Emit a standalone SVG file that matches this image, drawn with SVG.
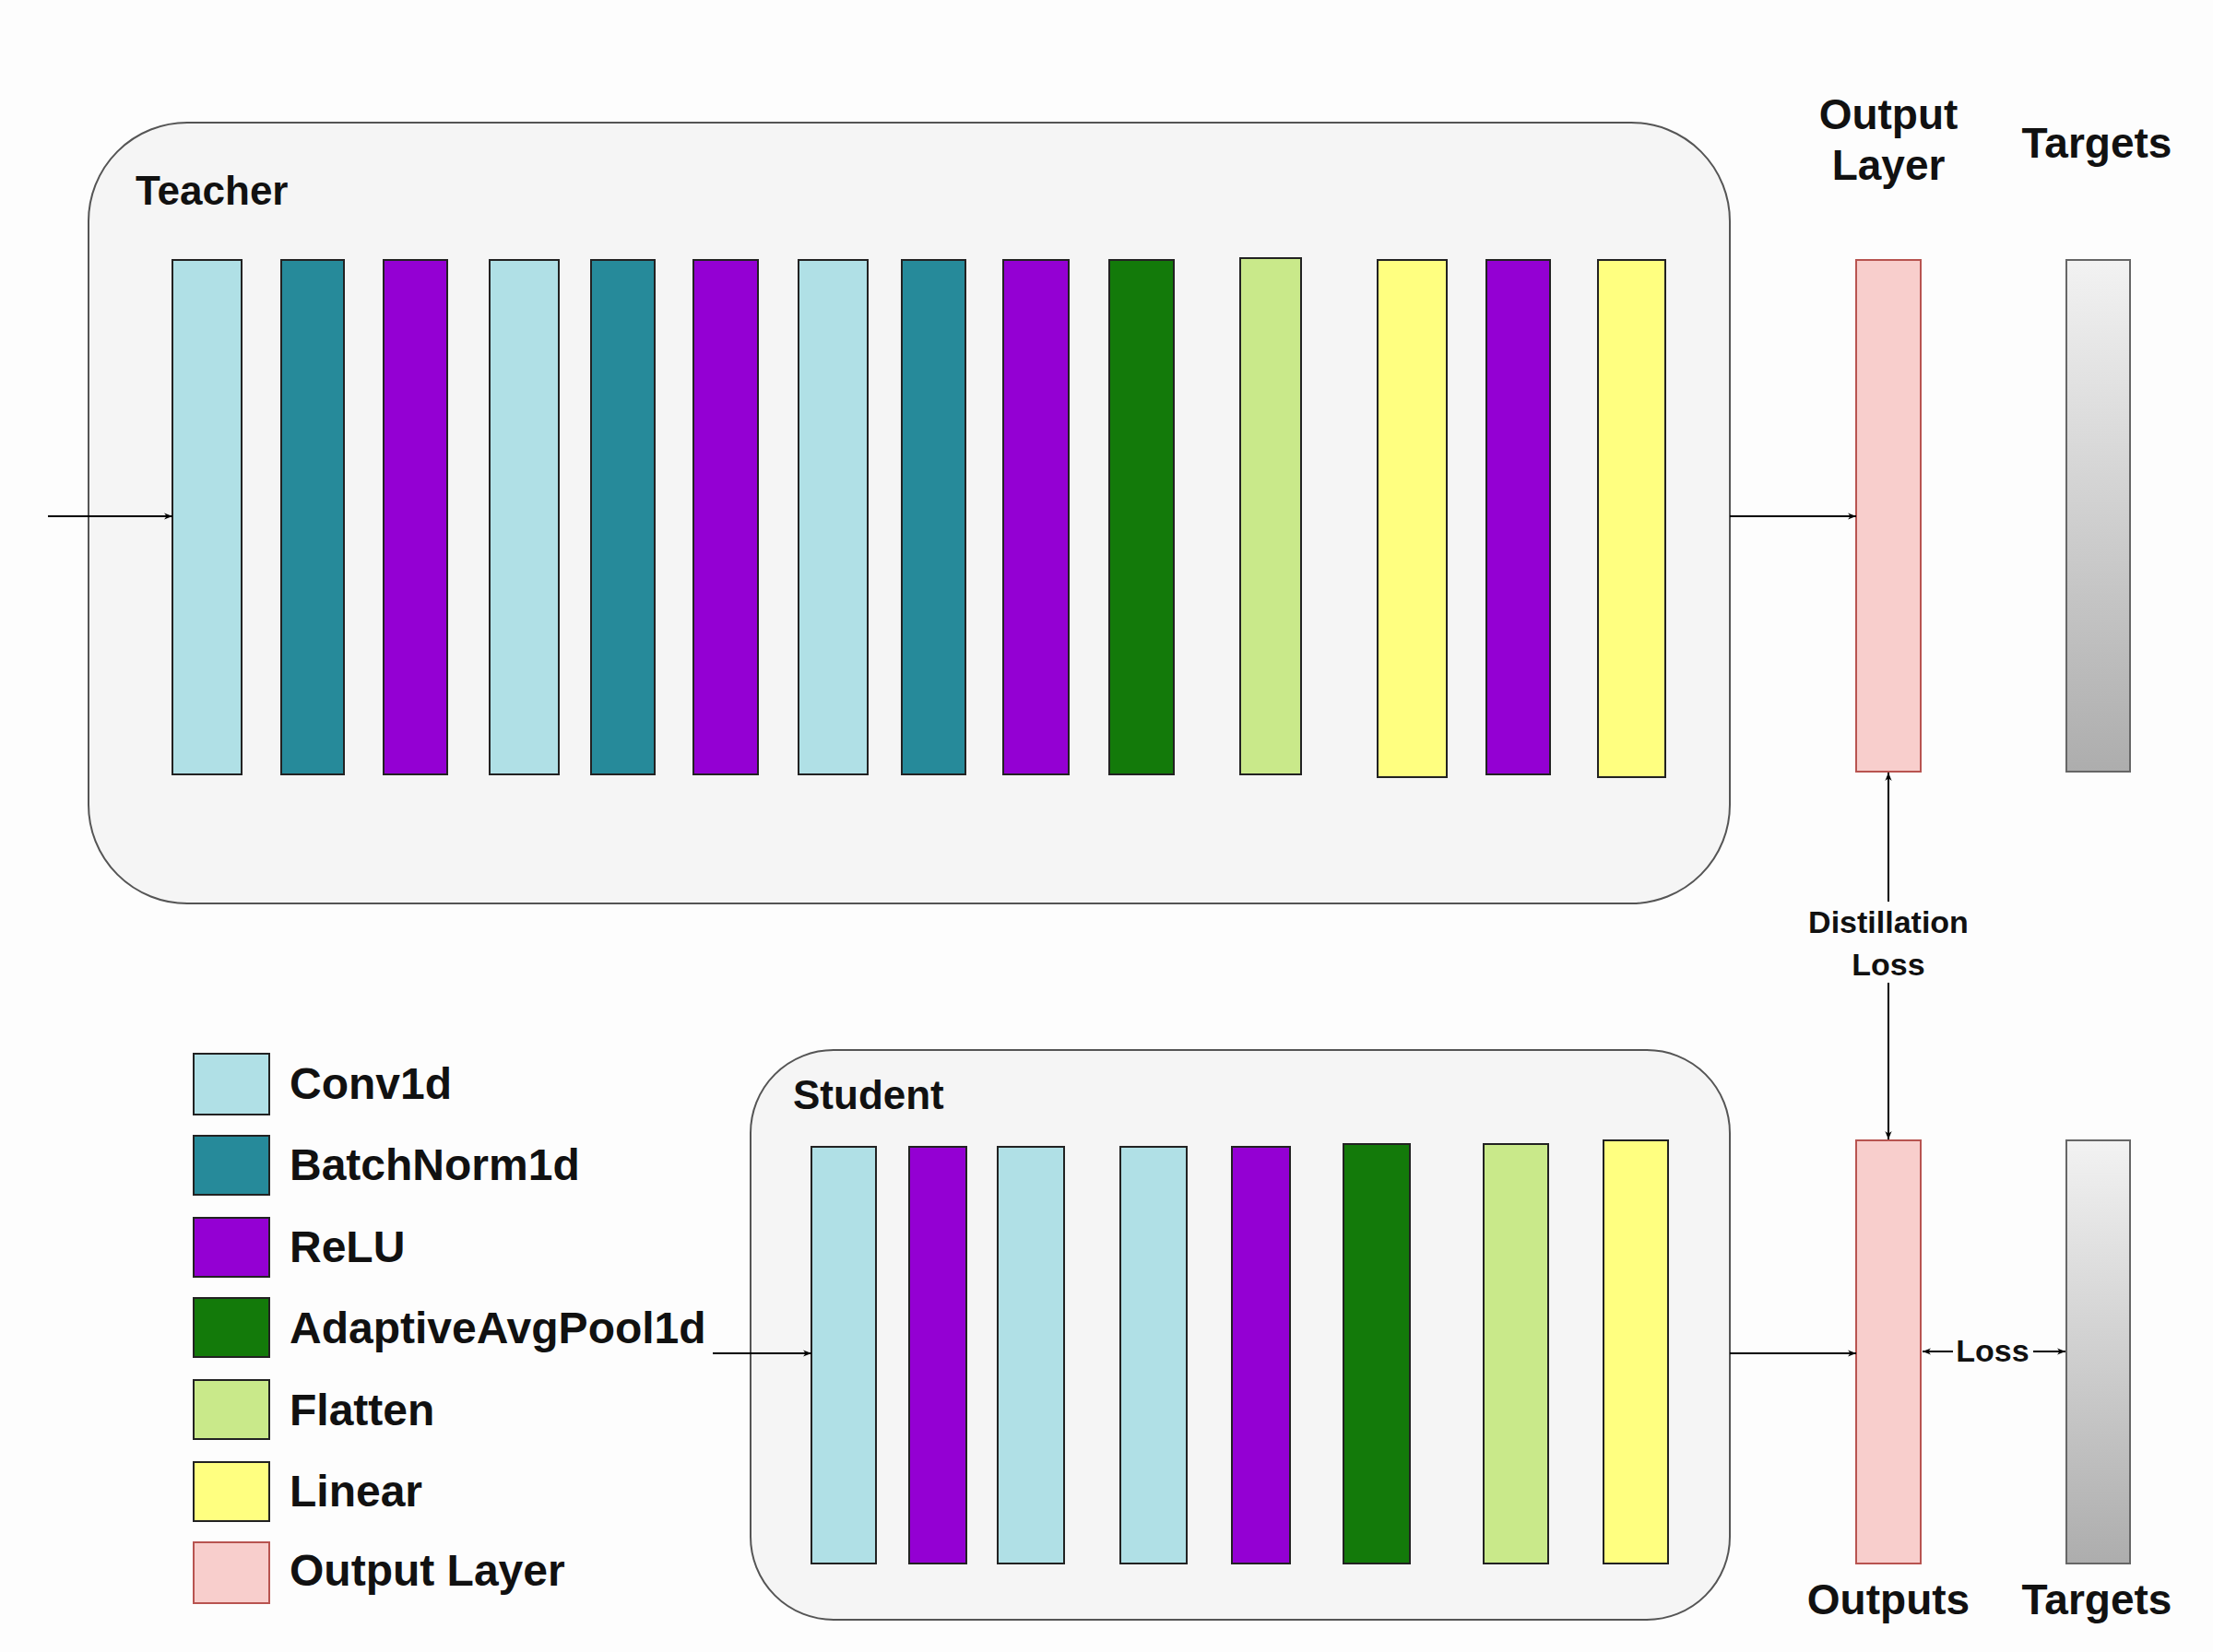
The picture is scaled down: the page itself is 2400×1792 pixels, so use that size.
<svg xmlns="http://www.w3.org/2000/svg" width="2400" height="1792" viewBox="0 0 2400 1792">
<defs>
<marker id="ah" viewBox="0 0 10 10" refX="10" refY="5" markerWidth="9" markerHeight="9" orient="auto-start-reverse" markerUnits="userSpaceOnUse"><path d="M0,1 L10,5 L0,9 L3,5 z" fill="#000"/></marker>
<linearGradient id="tg" x1="0" y1="0" x2="0" y2="1"><stop offset="0" stop-color="#f2f2f2"/><stop offset="1" stop-color="#adadad"/></linearGradient>
<style>
.t{font-family:"Liberation Sans",Arial,sans-serif;font-weight:bold;fill:#111}
.box{fill:#f5f5f5;stroke:#555;stroke-width:2}
rect.b{stroke:#222;stroke-width:2}
.lb{fill:#b0e0e6}.tl{fill:#268a9a}.pu{fill:#9400d3}.gr{fill:#137a0a}.lg{fill:#c9e98a}.ye{fill:#ffff80}
.pk{fill:#f8cecc;stroke:#b85450;stroke-width:2}
.tgt{fill:url(#tg);stroke:#666;stroke-width:2}
.c{stroke:#000;stroke-width:2;fill:none}
</style>
</defs>
<rect width="2400" height="1792" fill="#fdfdfd"/>
<g id="teacher">
<rect class="box" x="96" y="133" width="1780" height="847" rx="107"/>
<text class="t" x="147" y="222" font-size="44">Teacher</text>
<rect class="b lb" x="187" y="282" width="75" height="558"/>
<rect class="b tl" x="305" y="282" width="68" height="558"/>
<rect class="b pu" x="416" y="282" width="69" height="558"/>
<rect class="b lb" x="531" y="282" width="75" height="558"/>
<rect class="b tl" x="641" y="282" width="69" height="558"/>
<rect class="b pu" x="752" y="282" width="70" height="558"/>
<rect class="b lb" x="866" y="282" width="75" height="558"/>
<rect class="b tl" x="978" y="282" width="69" height="558"/>
<rect class="b pu" x="1088" y="282" width="71" height="558"/>
<rect class="b gr" x="1203" y="282" width="70" height="558"/>
<rect class="b lg" x="1345" y="280" width="66" height="560"/>
<rect class="b ye" x="1494" y="282" width="75" height="561"/>
<rect class="b pu" x="1612" y="282" width="69" height="558"/>
<rect class="b ye" x="1733" y="282" width="73" height="561"/>
</g>
<g id="student">
<rect class="box" x="814" y="1139" width="1062" height="618" rx="90"/>
<text class="t" x="860" y="1203" font-size="44">Student</text>
<rect class="b lb" x="880" y="1244" width="70" height="452"/>
<rect class="b pu" x="986" y="1244" width="62" height="452"/>
<rect class="b lb" x="1082" y="1244" width="72" height="452"/>
<rect class="b lb" x="1215" y="1244" width="72" height="452"/>
<rect class="b pu" x="1336" y="1244" width="63" height="452"/>
<rect class="b gr" x="1457" y="1241" width="72" height="455"/>
<rect class="b lg" x="1609" y="1241" width="70" height="455"/>
<rect class="b ye" x="1739" y="1237" width="70" height="459"/>
</g>
<g id="teacher-output">
<rect class="pk" x="2013" y="282" width="70" height="555"/>
<text class="t" x="2048" y="140" font-size="46" text-anchor="middle">Output</text>
<text class="t" x="2048" y="195" font-size="46" text-anchor="middle">Layer</text>
</g>
<g id="teacher-targets">
<rect class="tgt" x="2241" y="282" width="69" height="555"/>
<text class="t" x="2274" y="171" font-size="46" text-anchor="middle">Targets</text>
</g>
<g id="student-outputs">
<rect class="pk" x="2013" y="1237" width="70" height="459"/>
<text class="t" x="2048" y="1751" font-size="46" text-anchor="middle">Outputs</text>
</g>
<g id="student-targets">
<rect class="tgt" x="2241" y="1237" width="69" height="459"/>
<text class="t" x="2274" y="1751" font-size="46" text-anchor="middle">Targets</text>
</g>
<g id="connectors">
<line class="c" x1="52" y1="560" x2="187" y2="560" marker-end="url(#ah)"/>
<line class="c" x1="1876" y1="560" x2="2013" y2="560" marker-end="url(#ah)"/>
<line class="c" x1="773" y1="1468" x2="880" y2="1468" marker-end="url(#ah)"/>
<line class="c" x1="1876" y1="1468" x2="2013" y2="1468" marker-end="url(#ah)"/>
<line class="c" x1="2048" y1="978" x2="2048" y2="838" marker-end="url(#ah)"/>
<line class="c" x1="2048" y1="1066" x2="2048" y2="1236" marker-end="url(#ah)"/>
<line class="c" x1="2118" y1="1466" x2="2085" y2="1466" marker-end="url(#ah)"/>
<line class="c" x1="2205" y1="1466" x2="2240" y2="1466" marker-end="url(#ah)"/>
<text class="t" x="2048" y="1012" font-size="34" text-anchor="middle">Distillation</text>
<text class="t" x="2048" y="1058" font-size="34" text-anchor="middle">Loss</text>
<text class="t" x="2161" y="1477" font-size="34" text-anchor="middle">Loss</text>
</g>
<g id="legend">
<rect class="b lb" x="210" y="1143" width="82" height="66"/>
<text class="t" x="314" y="1192" font-size="48">Conv1d</text>
<rect class="b tl" x="210" y="1232" width="82" height="64"/>
<text class="t" x="314" y="1280" font-size="48">BatchNorm1d</text>
<rect class="b pu" x="210" y="1321" width="82" height="64"/>
<text class="t" x="314" y="1369" font-size="48">ReLU</text>
<rect class="b gr" x="210" y="1408" width="82" height="64"/>
<text class="t" x="314" y="1457" font-size="48">AdaptiveAvgPool1d</text>
<rect class="b lg" x="210" y="1497" width="82" height="64"/>
<text class="t" x="314" y="1546" font-size="48">Flatten</text>
<rect class="b ye" x="210" y="1586" width="82" height="64"/>
<text class="t" x="314" y="1634" font-size="48">Linear</text>
<rect class="pk" x="210" y="1673" width="82" height="66"/>
<text class="t" x="314" y="1720" font-size="48">Output Layer</text>
</g>
</svg>
